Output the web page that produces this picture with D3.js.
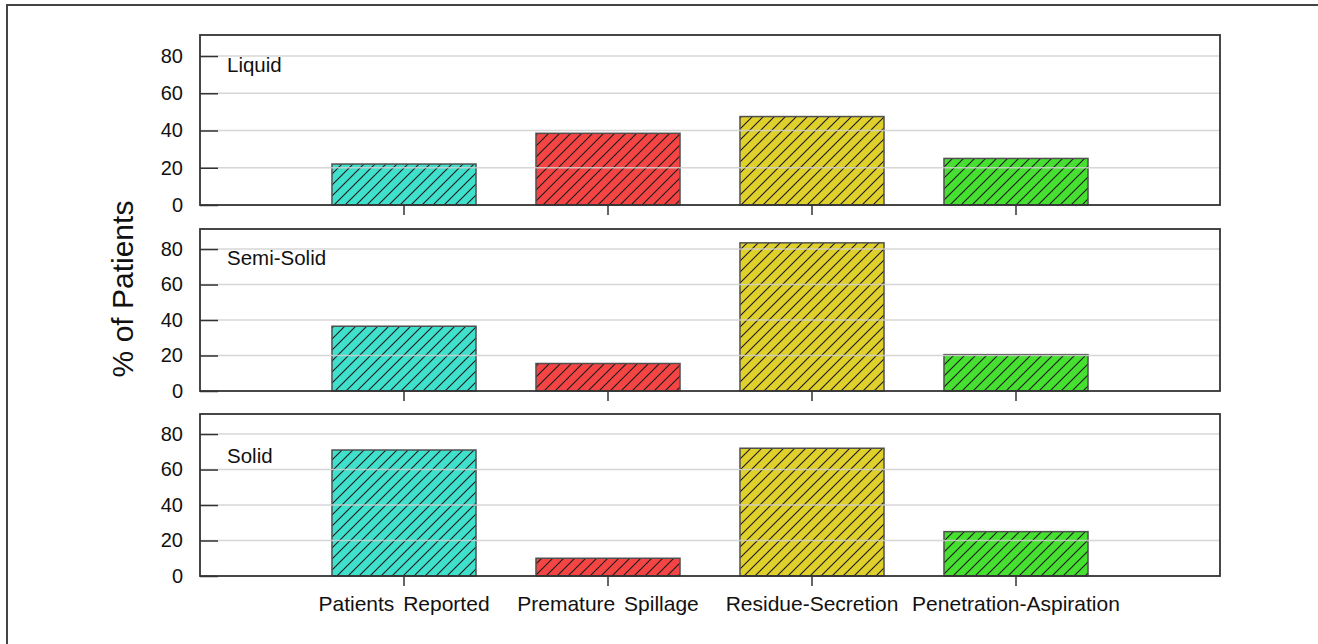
<!DOCTYPE html>
<html>
<head>
<meta charset="utf-8">
<script src="https://cdn.jsdelivr.net/npm/d3@7"></script>
<style>
  html, body { margin: 0; padding: 0; background: #fff; }
  svg { display: block; font-family: "Liberation Sans", Arial, Helvetica, sans-serif; }
</style>
</head>
<body>
<svg id="chart" width="1318" height="644"></svg>
<script>
// ---- data ----
const categories = ["Patients Reported", "Premature Spillage", "Residue-Secretion", "Penetration-Aspiration"];
const panelNames = ["Liquid", "Semi-Solid", "Solid"];
const liquidValues = [22, 38.5, 47.5, 25];
const semiSolidValues = [36.5, 15.5, 83.5, 20.5];
const solidValues = [71, 10, 72, 25];
const yTicks = [0, 20, 40, 60, 80];
const barColors = ["#3fe0cc", "#f44444", "#e0d02c", "#45e030"];

const panelValues = [liquidValues, semiSolidValues, solidValues];

// ---- layout ----
const svg = d3.select("#chart");
const left = 200, right = 1220;
const panelTops = [35, 229, 414];
const panelBottoms = [205, 391, 576];
const labelOffsets = [37, 36, 49];
const yMax = 91.3;

// outer frame
svg.append("rect").attr("x", 7).attr("y", 5).attr("width", 1330).attr("height", 660)
  .attr("fill", "none").attr("stroke", "#444").attr("stroke-width", 2);

// hatch patterns
const defs = svg.append("defs");
const hs = 11;
barColors.forEach((c, i) => {
  const p = defs.append("pattern").attr("id", "hatch" + i)
    .attr("patternUnits", "userSpaceOnUse").attr("width", hs).attr("height", hs);
  p.append("rect").attr("width", hs).attr("height", hs).attr("fill", c);
  p.append("path")
    .attr("d", `M0,${hs} L${hs},0 M${-hs/2},${hs/2} L${hs/2},${-hs/2} M${hs/2},${hs*1.5} L${hs*1.5},${hs/2}`)
    .attr("stroke", "#1a1a1a").attr("stroke-width", 1.1);
});

const x = d3.scaleBand().domain(categories).range([left, right])
  .paddingInner(0.294).paddingOuter(0.647);

panelNames.forEach((name, pi) => {
  const top = panelTops[pi], bottom = panelBottoms[pi];
  const y = d3.scaleLinear().domain([0, yMax]).range([bottom, top]);
  const g = svg.append("g");
  const vals = panelValues[pi];

  // bars
  g.selectAll("rect.bar").data(categories).enter().append("rect")
    .attr("class", "bar")
    .attr("x", d => x(d))
    .attr("y", (d, i) => y(vals[i]))
    .attr("width", x.bandwidth())
    .attr("height", (d, i) => y(0) - y(vals[i]))
    .attr("fill", (d, i) => `url(#hatch${i})`)
    .attr("stroke", "#505050").attr("stroke-width", 1.5);

  // gridlines (on top of bars, light)
  g.selectAll("line.grid").data(yTicks.filter(t => t > 0)).enter().append("line")
    .attr("x1", left).attr("x2", right)
    .attr("y1", d => y(d)).attr("y2", d => y(d))
    .attr("stroke", "#cfcfcf").attr("stroke-opacity", 0.85).attr("stroke-width", 1.5);

  // y axis with inward ticks
  const yAxis = d3.axisLeft(y).tickValues(yTicks).tickSize(-18).tickPadding(17);
  const ya = g.append("g").attr("transform", `translate(${left},0)`).call(yAxis);
  ya.select(".domain").remove();
  ya.selectAll(".tick line").attr("stroke", "#333").attr("stroke-width", 1.5);
  ya.selectAll(".tick text").attr("font-size", 20).attr("fill", "#111")
    .attr("font-family", "'Liberation Sans', Arial, sans-serif");

  // x axis ticks (below)
  const xAxis = d3.axisBottom(x).tickSize(10).tickFormat(pi === 2 ? (d => d) : "");
  const xa = g.append("g").attr("transform", `translate(0,${bottom})`).call(xAxis);
  xa.select(".domain").remove();
  xa.selectAll(".tick line").attr("stroke", "#333").attr("stroke-width", 1.5);
  xa.selectAll(".tick text").attr("font-size", 21).attr("fill", "#111")
    .attr("dy", 0).attr("y", 35).attr("word-spacing", 3)
    .attr("font-family", "'Liberation Sans', Arial, sans-serif");

  // box
  g.append("rect").attr("x", left).attr("y", top)
    .attr("width", right - left).attr("height", bottom - top)
    .attr("fill", "none").attr("stroke", "#333").attr("stroke-width", 1.8);

  // panel label
  g.append("text").attr("x", 227).attr("y", top + labelOffsets[pi])
    .attr("font-size", 20.5).attr("fill", "#111").text(name);
});

// y axis title
svg.append("text")
  .attr("transform", "translate(133,289) rotate(-90)")
  .attr("text-anchor", "middle")
  .attr("font-size", 30).attr("fill", "#111")
  .text("% of Patients");
</script>
</body>
</html>
